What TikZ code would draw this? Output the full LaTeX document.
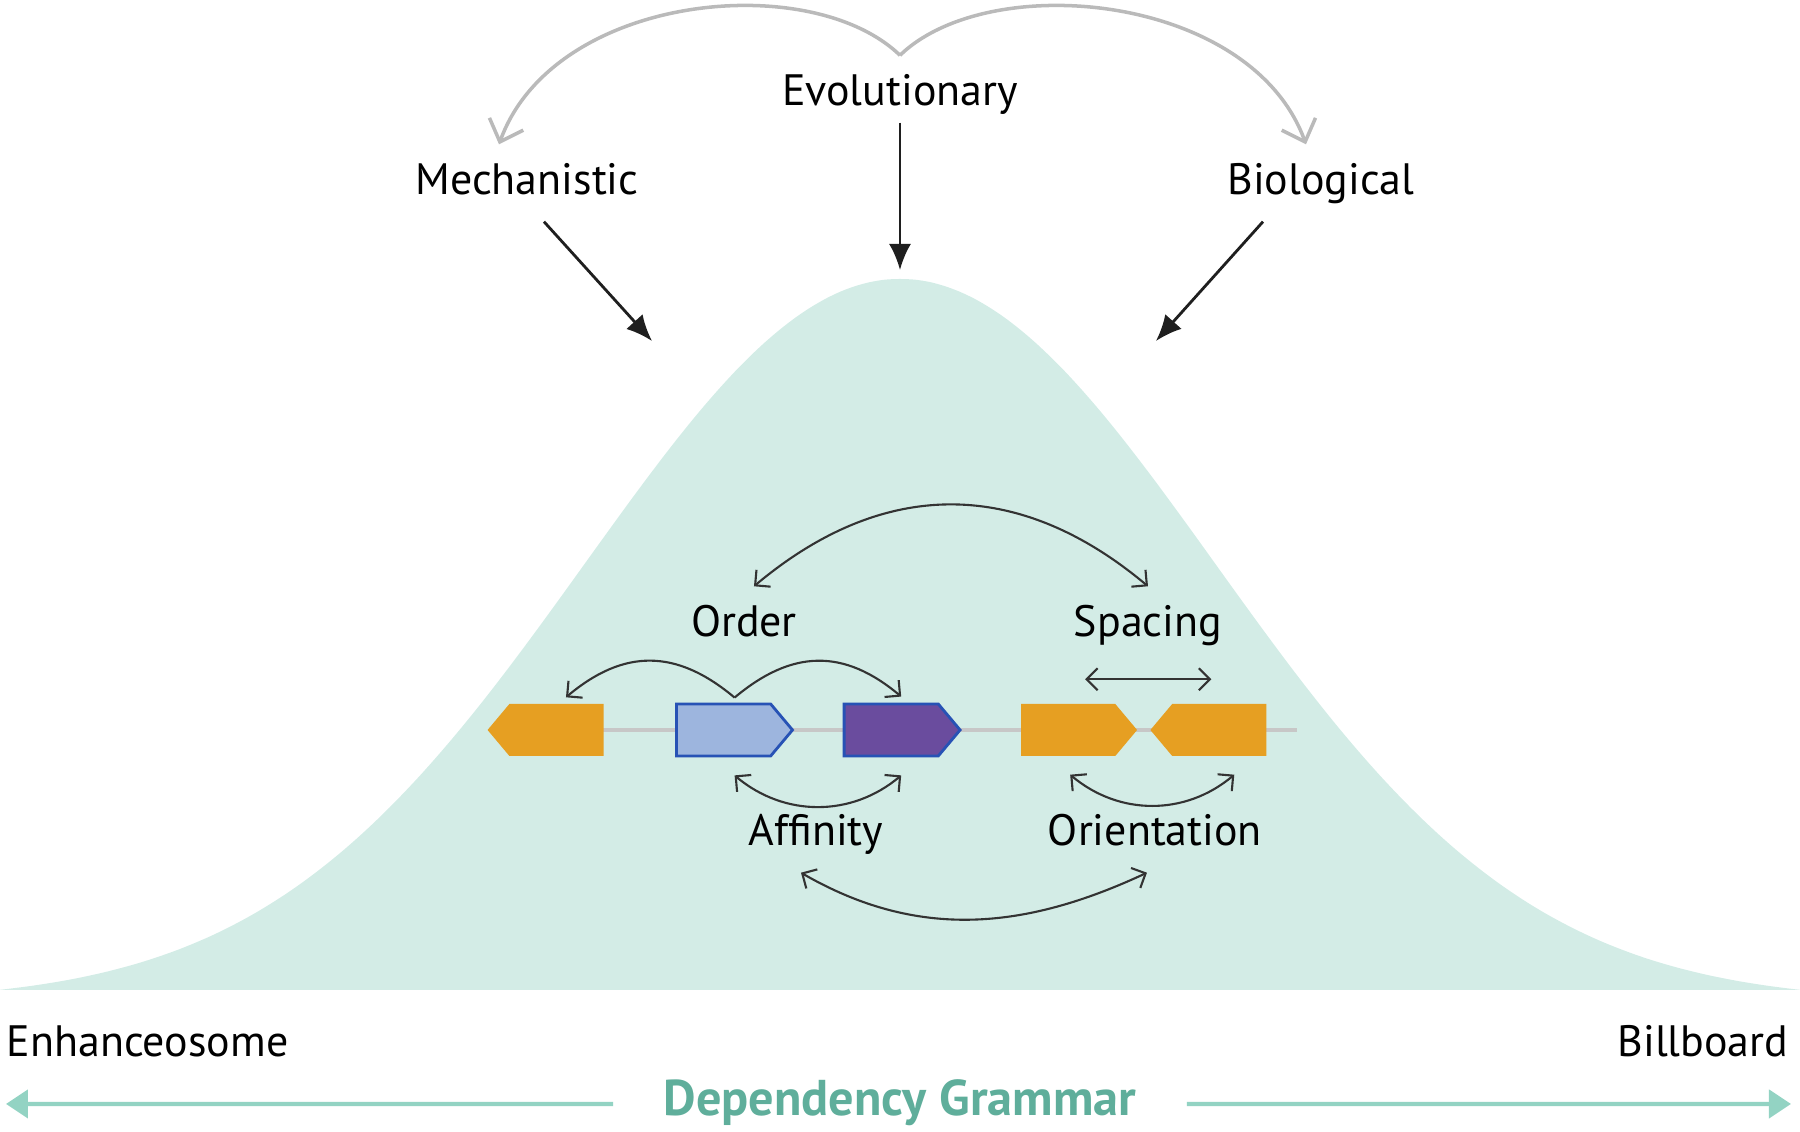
\documentclass[tikz,border=0pt]{standalone}
\usepackage{fontspec}
\setmainfont{PT Sans}
\usetikzlibrary{arrows.meta,shapes.symbols}
\definecolor{bell}{HTML}{D3ECE6}
\definecolor{tealline}{HTML}{93D3C3}
\definecolor{tealtext}{HTML}{5FAE9B}
\definecolor{gene}{HTML}{E69F22}
\definecolor{lightgene}{HTML}{9DB5DE}
\definecolor{darkgene}{HTML}{6A4C9E}
\definecolor{geneedge}{HTML}{2752B5}
\begin{document}
\begin{tikzpicture}[font=\fontsize{12.5}{15}\selectfont,
    lbl/.style={anchor=base, inner xsep=0pt, inner ysep=0.18cm, text height=0.32cm, text depth=0.08cm},
    blk/.style={signal, signal from=nowhere, signal pointer angle=100, minimum width=1.16cm, minimum height=0.52cm, inner sep=0pt},
    grayarc/.style={draw=black!27, line width=1pt, -{Straight Barb[length=1.9mm,width=3.6mm]}},
    bigarrow/.style={draw=black!88, line width=0.8pt, -{Latex[length=2.6mm,width=2.2mm]}},
    thinline/.style={draw=black!80, line width=0.6pt, >={Straight Barb[length=1.1mm,width=2.2mm]}},
    tealarrow/.style={draw=tealline, line width=1.2pt, -{Triangle[length=2.2mm,width=2.8mm]}}]
  \useasboundingbox (-9,-1.42) rectangle (9,9.90);
  \fill[bell] plot[domain=-9:9, samples=121, smooth] (\x,{7.23*exp(-0.5*(\x/3.15)*(\x/3.15))-0.12}) -- cycle;

  \node[lbl] (Evo) at (0,8.84) {Evolutionary};
  \node[lbl] (Mech) at (-3.73,7.95) {Mechanistic};
  \node[lbl] (Bio) at (4.21,7.95) {Biological};
  \coordinate (Mt) at (-2.48,6.49);
  \coordinate (Et) at (0,7.20);
  \coordinate (Bt) at (2.56,6.49);
  \draw[grayarc] (Evo.north) .. controls +(136:1.25) and +(70:1.6) .. ([xshift=-2.8mm]Mech.north);
  \draw[grayarc] (Evo.north) .. controls +(44:1.25) and +(110:1.6) .. ([xshift=-1.5mm]Bio.north);
  \draw[bigarrow] ([yshift=1mm]Evo.south) -- (Et);
  \draw[bigarrow] ([xshift=1.7mm]Mech.south) -- (Mt);
  \draw[bigarrow] ([xshift=-5.8mm]Bio.south) -- (Bt);

  \coordinate (L1) at (-3.0,2.6);
  \coordinate (L2) at (3.97,2.6);
  \draw[black!22, line width=1pt] (L1) -- (L2);
  \node[blk, fill=gene, signal to=west] (G1) at (-3.435,2.6) {};
  \node[blk, fill=lightgene, draw=geneedge, line width=0.8pt, signal to=east] (G2) at (-1.764,2.6) {};
  \node[blk, fill=darkgene, draw=geneedge, line width=0.8pt, signal to=east] (G3) at (-0.088,2.6) {};
  \node[blk, fill=gene, signal to=east] (G4) at (1.682,2.6) {};
  \node[blk, fill=gene, signal to=west] (G5) at (3.193,2.6) {};

  \node[lbl] (Ord) at (-1.56,3.53) {Order};
  \node[lbl] (Spc) at (2.48,3.53) {Spacing};
  \node[lbl] (Aff) at (-0.84,1.44) {Affinity};
  \node[lbl] (Ori) at (2.55,1.44) {Orientation};
  \draw[thinline, <->] ([xshift=1mm]Ord.north) to[out=40,in=140,looseness=1.1] (Spc.north);
  \draw[thinline, ->] ([shift={(1.1mm,0.5mm)}]G2.north) to[out=140,in=40,looseness=1.15] ([shift={(0.95mm,0.6mm)}]G1.north);
  \draw[thinline, ->] ([shift={(1.1mm,0.5mm)}]G2.north) to[out=40,in=140,looseness=1.15] ([shift={(1mm,0.6mm)}]G3.north);
  \draw[thinline, <->] ([shift={(1.7mm,2.4mm)}]G4.north) -- ([shift={(-0.8mm,2.4mm)}]G5.north);
  \draw[thinline, <->] ([shift={(1.1mm,-1.8mm)}]G2.south) to[out=-40,in=-140] ([shift={(1mm,-1.8mm)}]G3.south);
  \draw[thinline, <->] ([shift={(0.2mm,-1.8mm)}]G4.south) to[out=-40,in=-140] ([shift={(1.5mm,-1.8mm)}]G5.south);
  \draw[thinline, <->] ([xshift=-1.5mm]Aff.south) to[out=-30,in=-155] ([xshift=-0.8mm]Ori.south);

  \node[lbl, anchor=base west] (Enh) at (-8.94,-0.67) {Enhanceosome};
  \node[lbl, anchor=base east] (Bill) at (8.89,-0.67) {Billboard};
  \node[lbl, text=tealtext, font=\fontsize{14.3}{16}\selectfont\bfseries] (DG) at (0,-1.26) {Dependency Grammar};
  \coordinate (Lt) at (-8.94,-1.14);
  \coordinate (Rt) at (8.91,-1.14);
  \draw[tealarrow] ([xshift=-5mm]DG.west) -- (Lt);
  \draw[tealarrow] ([xshift=5mm]DG.east) -- (Rt);
\end{tikzpicture}
\end{document}
